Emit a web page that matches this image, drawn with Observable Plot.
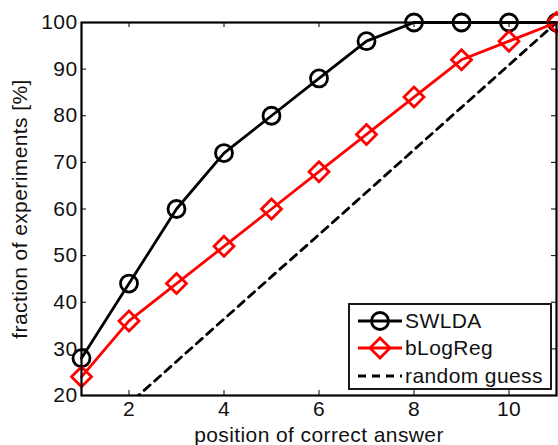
<!DOCTYPE html>
<html>
<head>
<meta charset="utf-8">
<script src="https://cdn.jsdelivr.net/npm/d3@7"></script>
<script src="https://cdn.jsdelivr.net/npm/@observablehq/plot@0.6"></script>
<style>
  html, body { margin: 0; padding: 0; background: #fff; }
  #wrap { position: relative; width: 558px; height: 445px; overflow: hidden; }
  #legend { position: absolute; left: 0; top: 0; }
</style>
</head>
<body>
<div id="wrap"></div>
<script>
const positions = [1, 2, 3, 4, 5, 6, 7, 8, 9, 10, 11];
const swlda = [28, 44, 60, 72, 80, 88, 96, 100, 100, 100, 100];
const blogreg = [24, 36, 44, 52, 60, 68, 76, 84, 92, 96, 100];
const randomGuess = [9.1, 18.2, 27.3, 36.4, 45.5, 54.5, 63.6, 72.7, 81.8, 90.9, 100];
const xTicks = [2, 4, 6, 8, 10];
const yTicks = [20, 30, 40, 50, 60, 70, 80, 90, 100];
const seriesNames = ["SWLDA", "bLogReg", "random guess"];
const xLabel = "position of correct answer";
const yLabel = "fraction of experiments [%]";

const W = 558, H = 445;
const mL = 81, mR = 2, mT = 22, mB = 50;
const fw = W - mL - mR, fh = H - mT - mB;

const rows = (vals, name) => positions.map((x, i) => ({x, y: vals[i], name}));
const dSW = rows(swlda, seriesNames[0]);
const dLR = rows(blogreg, seriesNames[1]);
const dRG = rows(randomGuess, seriesNames[2]);

const diamond = {
  draw(ctx, size) {
    const h = Math.sqrt(size / Math.PI);
    ctx.moveTo(0, -h); ctx.lineTo(h, 0); ctx.lineTo(0, h); ctx.lineTo(-h, 0); ctx.closePath();
  }
};

const ink = "#111";
const font = "'Liberation Sans', Arial, sans-serif";
const lw = 2.8;
const chart = Plot.plot({
  width: W, height: H,
  marginLeft: mL, marginRight: mR, marginTop: mT, marginBottom: mB,
  style: {fontFamily: font, fontSize: "21px", color: ink, background: "transparent", letterSpacing: "0.4px"},
  x: {domain: [1, 11]},
  y: {domain: [20, 100]},
  marks: [
    Plot.line(dRG, {x: "x", y: "y", stroke: "black", strokeWidth: lw, strokeDasharray: "8,6", clip: true}),
    Plot.line(dSW, {x: "x", y: "y", stroke: "black", strokeWidth: lw}),
    Plot.dot(dSW, {x: "x", y: "y", r: 8.5, stroke: "black", strokeWidth: lw, fill: "none"}),
    Plot.line(dLR, {x: "x", y: "y", stroke: "#ff0000", strokeWidth: lw}),
    Plot.dot(dLR, {x: "x", y: "y", r: 10, symbol: diamond, stroke: "#ff0000", strokeWidth: lw, fill: "none"}),
    Plot.tickX(xTicks, {x: d => d, insetTop: fh - 5, stroke: "black", strokeWidth: 1}),
    Plot.tickX(xTicks, {x: d => d, insetBottom: fh - 5, stroke: "black", strokeWidth: 1}),
    Plot.tickY(yTicks, {y: d => d, insetRight: fw - 5, stroke: "black", strokeWidth: 1}),
    Plot.tickY(yTicks, {y: d => d, insetLeft: fw - 5, stroke: "black", strokeWidth: 1}),
    Plot.frame({stroke: "black", strokeWidth: 2.2}),
    Plot.axisX({ticks: xTicks, tickSize: 0, tickPadding: 6, label: xLabel, labelAnchor: "center", labelOffset: 46, labelArrow: "none"}),
    Plot.axisY({ticks: yTicks, tickSize: 0, tickPadding: 4, label: yLabel, labelAnchor: "center", labelOffset: 69, labelArrow: "none"})
  ]
});
document.getElementById("wrap").appendChild(chart);

// Legend (overlay)
const lg = d3.select("#wrap").append("svg").attr("id", "legend").attr("width", W).attr("height", H)
  .style("font-family", font).style("font-size", "21px").style("letter-spacing", "0.4px");
lg.append("rect").attr("x", 349).attr("y", 304).attr("width", 202).attr("height", 85)
  .attr("fill", "white").attr("stroke", "black").attr("stroke-width", 1.8);
const entryY = [321, 348, 376];
const styles = [
  {stroke: "black", dash: null, marker: "circle"},
  {stroke: "#ff0000", dash: null, marker: "diamond"},
  {stroke: "black", dash: "8,6", marker: null}
];
seriesNames.forEach((name, i) => {
  const y = entryY[i], s = styles[i];
  lg.append("line").attr("x1", 358).attr("x2", 402).attr("y1", y).attr("y2", y)
    .attr("stroke", s.stroke).attr("stroke-width", lw).attr("stroke-dasharray", s.dash);
  if (s.marker === "circle") {
    lg.append("circle").attr("cx", 380).attr("cy", y).attr("r", 8.5).attr("fill", "none").attr("stroke", s.stroke).attr("stroke-width", lw);
  } else if (s.marker === "diamond") {
    const h = 10;
    lg.append("path").attr("d", `M380,${y - h}L${380 + h},${y}L380,${y + h}L${380 - h},${y}Z`)
      .attr("fill", "none").attr("stroke", s.stroke).attr("stroke-width", lw);
  }
  lg.append("text").attr("x", 405).attr("y", y).attr("dy", "0.35em").attr("fill", ink).text(name);
});
</script>
</body>
</html>
